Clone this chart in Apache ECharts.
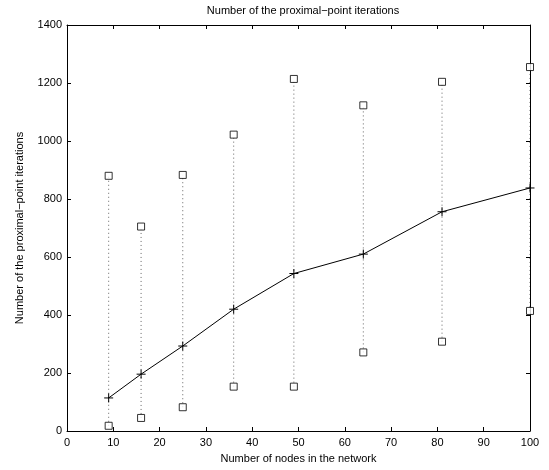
<!DOCTYPE html>
<html>
<head>
<meta charset="utf-8">
<script src="https://cdn.jsdelivr.net/npm/echarts@6/dist/echarts.min.js"></script>
<style>
  html, body { margin: 0; padding: 0; background: #fff; }
  #chart { width: 549px; height: 470px; }
</style>
</head>
<body>
<div id="chart"></div>
<script>
// nodes in the network
var nodes = [9, 16, 25, 36, 49, 64, 81, 100];
// mean / min / max iterations
var meanIter = [114, 196, 293, 420, 543, 610, 756, 838];
var minIter = [18, 45, 82, 153, 153, 271, 308, 414];
var maxIter = [880, 705, 883, 1022, 1214, 1123, 1204, 1255];

var font = 'Liberation Sans, Arial, Helvetica, sans-serif';

var chart = echarts.init(document.getElementById('chart'));

// ranges: [x, min, max]
var rangeData = nodes.map(function (x, i) { return [x, minIter[i], maxIter[i]]; });
var meanData = nodes.map(function (x, i) { return [x, meanIter[i]]; });
var extremeData = [];
nodes.forEach(function (x, i) {
  extremeData.push([x, minIter[i]]);
  extremeData.push([x, maxIter[i]]);
});

var axisCommon = {
  type: 'value',
  z: 2,
  axisLine: { show: true, onZero: false, lineStyle: { color: '#000', width: 1 } },
  axisTick: { show: true, inside: true, length: 4, lineStyle: { color: '#000' } },
  splitLine: { show: false },
  axisLabel: { color: '#000', fontSize: 11, fontFamily: font }
};

var option = {
  backgroundColor: '#fff',
  animation: false,
  title: {
    text: 'Number of the proximal\u2212point iterations',
    left: 298,
    textAlign: 'center',
    top: 0,
    textStyle: { fontSize: 11, fontWeight: 'normal', color: '#000', fontFamily: font }
  },
  grid: { left: 67, right: 19, top: 25, bottom: 39 },
  xAxis: [
    Object.assign({}, axisCommon, {
      min: 0, max: 100, interval: 10,
      name: 'Number of nodes in the network',
      nameLocation: 'middle', nameGap: 22,
      nameTextStyle: { fontSize: 11, color: '#000', fontFamily: font },
      axisLabel: { color: '#000', fontSize: 11, fontFamily: font, margin: 6 }
    }),
    Object.assign({}, axisCommon, {
      position: 'top', min: 0, max: 100, interval: 10,
      axisLabel: { show: false }
    })
  ],
  yAxis: [
    Object.assign({}, axisCommon, {
      min: 0, max: 1400, interval: 200,
      name: 'Number of the proximal\u2212point iterations',
      nameLocation: 'middle', nameGap: 42,
      nameTextStyle: { fontSize: 11, color: '#000', fontFamily: font },
      axisLabel: {
        color: '#000', fontSize: 11, fontFamily: font, margin: 5,
        formatter: function (v) { return String(v); }
      }
    }),
    Object.assign({}, axisCommon, {
      position: 'right', min: 0, max: 1400, interval: 200,
      axisLabel: { show: false }
    })
  ],
  series: [
    {
      // dotted range lines
      type: 'custom',
      xAxisIndex: 0, yAxisIndex: 0,
      data: rangeData,
      renderItem: function (params, api) {
        var p1 = api.coord([api.value(0), api.value(1)]);
        var p2 = api.coord([api.value(0), api.value(2)]);
        return {
          type: 'line',
          shape: { x1: p1[0], y1: p1[1], x2: p2[0], y2: p2[1] },
          style: { stroke: '#666', lineWidth: 1, lineDash: [1, 3] }
        };
      },
      silent: true,
      z: 1
    },
    {
      type: 'scatter',
      data: extremeData,
      symbol: 'rect',
      symbolSize: 7,
      itemStyle: { color: '#fff', borderColor: '#000', borderWidth: 1 },
      z: 3
    },
    {
      type: 'line',
      data: meanData,
      symbol: 'path://M0,5L10,5M5,0L5,10',
      symbolSize: 9,
      showSymbol: true,
      lineStyle: { color: '#000', width: 1 },
      itemStyle: { color: 'none', borderColor: '#000', borderWidth: 1 },
      z: 4
    }
  ]
};

chart.setOption(option);
</script>
</body>
</html>
